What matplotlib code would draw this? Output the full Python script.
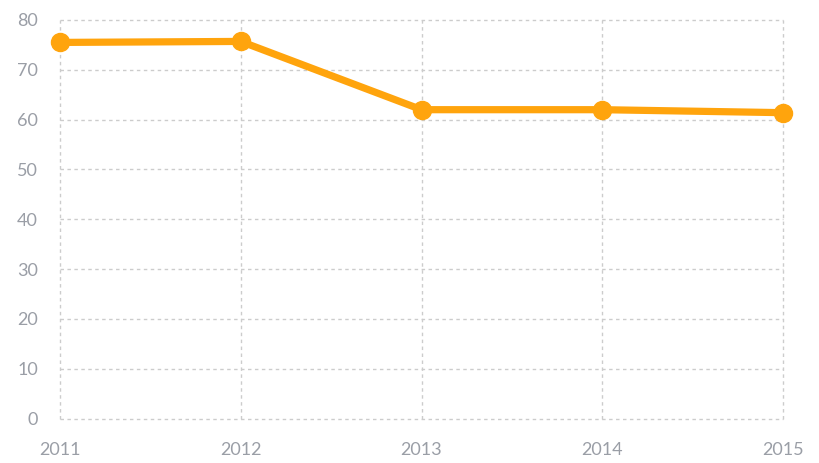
import matplotlib
matplotlib.use("Agg")
import matplotlib.pyplot as plt

years = [2011, 2012, 2013, 2014, 2015]
values = [75.5, 75.7, 62.0, 62.0, 61.4]
y_ticks = [0, 10, 20, 30, 40, 50, 60, 70, 80]

plt.rcParams['font.family'] = ['Lato', 'DejaVu Sans']

fig = plt.figure(figsize=(8.2, 4.63), dpi=100)
ax = fig.add_axes([60 / 820, 1 - 418.6 / 463, 723 / 820, 398.6 / 463])

ax.plot(years, values, color="#ffa40d", linewidth=5.2, marker="o",
        markersize=13, solid_capstyle="round", clip_on=False, zorder=3)

ax.set_xlim(2011, 2015)
ax.set_ylim(0, 80)
ax.set_xticks(years)
ax.set_xticklabels([str(y) for y in years])
ax.set_yticks(y_ticks)

for s in ax.spines.values():
    s.set_visible(False)
ax.grid(True, color="#cccccc", linestyle=(0, (2.5, 2.5)), linewidth=1)
for gl in ax.get_xgridlines() + ax.get_ygridlines():
    gl.set_clip_on(False)
ax.tick_params(axis="both", length=0, colors="#9a9ea6", labelsize=13)
ax.tick_params(axis="x", pad=17)
ax.tick_params(axis="y", pad=16)

fig.savefig("out.png", dpi=100)
